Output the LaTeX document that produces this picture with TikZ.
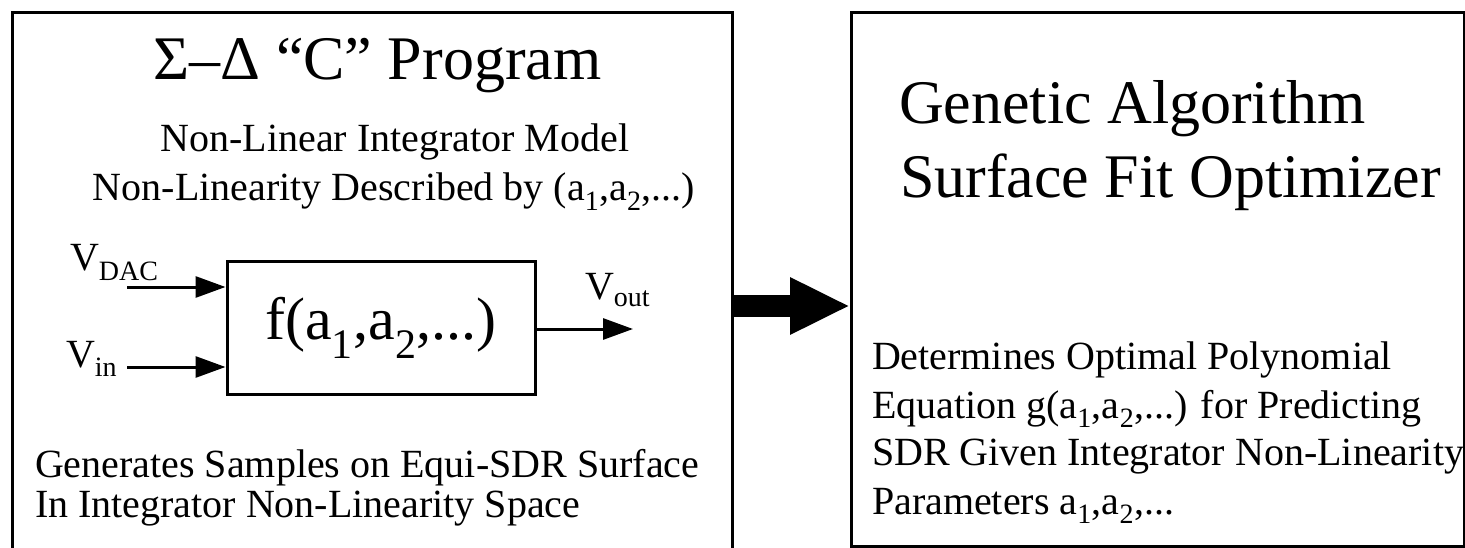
\documentclass[tikz,border=0pt]{standalone}
\usepackage{fontspec}
\setmainfont{Liberation Serif}
\usetikzlibrary{arrows.meta}
\tikzset{
  frameline/.style={line width=3pt, line cap=rect},
  txt/.style={inner sep=0pt, outer sep=0pt},
  big/.style={txt, font=\fontsize{62}{72}\selectfont},
  mid/.style={txt, font=\fontsize{40}{48}\selectfont},
  sig/.style={line width=3pt, -{Triangle[length=30pt,width=21pt]}},
}
\begin{document}
\begin{tikzpicture}[x=1pt,y=-1pt]
\useasboundingbox (0,0) rectangle (1465,548);
% left frame (bottom edge is cut off in the reference)
\node[txt, minimum width=720pt, minimum height=540pt, anchor=north west] (left) at (12,13) {};
\draw[frameline] (left.south west) -- (left.north west) -- (left.north east) -- (left.south east);
% right frame
\node[draw, line width=3pt, inner sep=0pt, minimum width=613pt, minimum height=534pt, anchor=north west] (right) at (850,11) {};

% left texts
\node[big, anchor=base] (ttl) at (377.5,80) {Σ–Δ “C” Program};
\node[mid, anchor=base] (nl1) at (395,152) {Non-Linear Integrator Model};
\node[mid, anchor=base] (nl2) at (394,201) {Non-Linearity Described by (a\textsubscript{1},a\textsubscript{2},...)};
\node[mid, anchor=base west] (gen1) at (35,477) {Generates Samples on Equi-SDR Surface};
\node[mid, anchor=base west] (gen2) at (35,517) {In Integrator Non-Linearity Space};

% inner block
\node[draw, line width=3pt, minimum width=308pt, minimum height=132pt, inner sep=0pt,
      font=\fontsize{60}{72}\selectfont] (fb) at (381,328) {f(a\textsubscript{1},a\textsubscript{2},...)};
\node[mid, anchor=base west] (vdac) at (70,271) {V\textsubscript{DAC}};
\node[mid, anchor=base west] (vin) at (66,367) {V\textsubscript{in}};
\node[mid, anchor=base west] (vout) at (585,299) {V\textsubscript{out}};
\coordinate (dacs) at (127,287);
\coordinate (ins) at (127,367);
\coordinate (oute) at (633,329);
\draw[sig] (dacs) -- (dacs -| fb.west);
\draw[sig] (ins) -- (ins -| fb.west);
\draw[sig] (oute -| fb.east) -- (oute);

% big arrow between the frames
\coordinate (ba) at (0,306);
\draw[line width=22pt, -{Triangle[length=60pt,width=53pt]}] (ba -| left.east) -- (ba -| right.west);

% right texts
\node[big, anchor=base west] (ga1) at (899,124) {Genetic Algorithm};
\node[big, anchor=base west] (ga2) at (900,198) {Surface Fit Optimizer};
\node[mid, anchor=base west] (d1) at (872,369) {Determines Optimal Polynomial};
\node[mid, anchor=base west] (d2) at (872,418) {Equation g(a\textsubscript{1},a\textsubscript{2},...) for Predicting};
\node[mid, anchor=base west] (d3) at (872,465) {SDR Given Integrator Non-Linearity};
\node[mid, anchor=base west] (d4) at (872,514) {Parameters a\textsubscript{1},a\textsubscript{2},...};
\end{tikzpicture}
\end{document}
